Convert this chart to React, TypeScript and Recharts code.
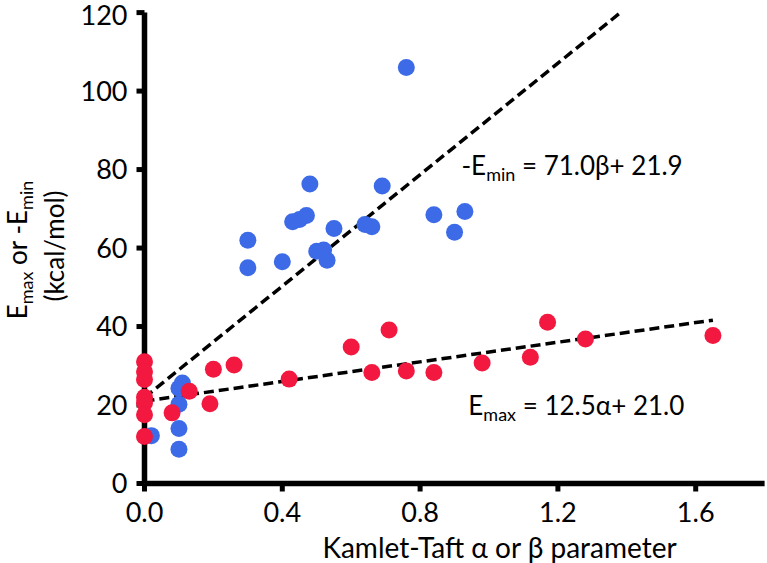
import { ScatterChart, Scatter, XAxis, YAxis, ReferenceLine, ReferenceDot } from "recharts";

// -E_min against Kamlet-Taft beta (blue)
const betaValues = [0.02, 0.11, 0.1, 0.1, 0.1, 0.1, 0.3, 0.3, 0.4, 0.43, 0.45, 0.47, 0.48, 0.5, 0.52, 0.53, 0.55, 0.64, 0.66, 0.69, 0.76, 0.84, 0.9, 0.93];
const eMinValues = [12.2, 25.6, 24.3, 20.2, 14.0, 8.7, 62.0, 55.0, 56.5, 66.7, 67.3, 68.3, 76.3, 59.2, 59.5, 56.9, 65.0, 66.0, 65.4, 75.8, 106.0, 68.5, 64.0, 69.3];

// E_max against Kamlet-Taft alpha (red)
const alphaValues = [0, 0, 0, 0, 0, 0, 0, 0.08, 0.13, 0.19, 0.2, 0.26, 0.42, 0.6, 0.66, 0.71, 0.76, 0.84, 0.98, 1.12, 1.17, 1.28, 1.65];
const eMaxValues = [31.0, 28.5, 26.5, 22.0, 20.5, 17.5, 12.0, 18.0, 23.5, 20.3, 29.1, 30.2, 26.6, 34.8, 28.3, 39.1, 28.7, 28.3, 30.7, 32.2, 41.1, 36.8, 37.7];

// fitted lines, as printed on the chart
const minFit = { slope: 71.0, intercept: 21.9, xEnd: 1.38 };
const maxFit = { slope: 12.5, intercept: 21.0, xEnd: 1.65 };

const xTicks = [0, 0.4, 0.8, 1.2, 1.6];
const yTicks = [0, 20, 40, 60, 80, 100, 120];

const BLUE = "#3d6be8";
const RED = "#f2183f";
const FONT = "Lato, 'Open Sans', sans-serif";

const blueData = betaValues.map((x, i) => ({ x, y: eMinValues[i] }));
const redData = alphaValues.map((x, i) => ({ x, y: eMaxValues[i] }));

const dot = (color: string) => (p: any) => <circle cx={p.cx} cy={p.cy} r={8.5} fill={color} />;

const YTitle = () => (
  <g fontFamily={FONT} fontSize={26} fill="#000">
    <text transform="translate(27,250) rotate(-90)" textAnchor="middle">
      E<tspan fontSize={18} dy={6}>max</tspan>
      <tspan dy={-6}> or -E</tspan>
      <tspan fontSize={18} dy={6}>min</tspan>
    </text>
    <text transform="translate(64,246) rotate(-90)" textAnchor="middle">(kcal/mol)</text>
  </g>
);

const XTitle = (props: any) => {
  const vb = props.viewBox;
  return (
    <text x={vb.x + vb.width / 2 + 45} y={558} textAnchor="middle" fontFamily={FONT} fontSize={28} fill="#000">
      Kamlet-Taft α or β parameter
    </text>
  );
};

const Equation = ({ viewBox, head, sub, rest }: any) => (
  <text x={viewBox.x} y={viewBox.y} fontFamily={FONT} fontSize={26} fill="#000">
    {head}
    <tspan fontSize={18} dy={6}>{sub}</tspan>
    <tspan dy={-6}>{rest}</tspan>
  </text>
);

export default function App() {
  return (
    <div style={{ position: "absolute", left: 0, top: 0, background: "#fff" }}>
      <ScatterChart width={767} height={563} margin={{ top: 12.6, right: 2.4, bottom: 0, left: 0 }}>
        <XAxis
          type="number"
          dataKey="x"
          domain={[0, 1.8]}
          ticks={xTicks}
          tickFormatter={(v: number) => v.toFixed(1)}
          height={79.5}
          axisLine={{ stroke: "#000", strokeWidth: 5.5 }}
          tickLine={{ stroke: "#000", strokeWidth: 5 }}
          tickSize={8}
          tickMargin={11}
          tick={{ fill: "#000", fontSize: 27, fontFamily: FONT }}
          label={<XTitle />}
        />
        <YAxis
          type="number"
          dataKey="y"
          domain={[0, 120]}
          ticks={yTicks}
          width={144.5}
          axisLine={{ stroke: "#000", strokeWidth: 5.5 }}
          tickLine={{ stroke: "#000", strokeWidth: 5 }}
          tickSize={8}
          tickMargin={9}
          tick={{ fill: "#000", fontSize: 27, fontFamily: FONT }}
          label={<YTitle />}
        />
        <Scatter data={blueData} fill={BLUE} shape={dot(BLUE)} isAnimationActive={false} />
        <Scatter data={redData} fill={RED} shape={dot(RED)} isAnimationActive={false} />
        <ReferenceLine
          segment={[
            { x: 0, y: minFit.intercept },
            { x: minFit.xEnd, y: minFit.intercept + minFit.slope * minFit.xEnd },
          ]}
          stroke="#000"
          strokeWidth={3.5}
          strokeDasharray="10 5"
          ifOverflow="visible"
        />
        <ReferenceLine
          segment={[
            { x: 0, y: maxFit.intercept },
            { x: maxFit.xEnd, y: maxFit.intercept + maxFit.slope * maxFit.xEnd },
          ]}
          stroke="#000"
          strokeWidth={3.5}
          strokeDasharray="10 5"
          ifOverflow="visible"
        />
        <ReferenceDot
          x={0.92}
          y={78.6}
          r={0}
          ifOverflow="visible"
          label={(p: any) => <Equation viewBox={p.viewBox} head="-E" sub="min" rest=" = 71.0β+ 21.9" />}
        />
        <ReferenceDot
          x={0.94}
          y={17.5}
          r={0}
          ifOverflow="visible"
          label={(p: any) => <Equation viewBox={p.viewBox} head="E" sub="max" rest=" = 12.5α+ 21.0" />}
        />
      </ScatterChart>
    </div>
  );
}
